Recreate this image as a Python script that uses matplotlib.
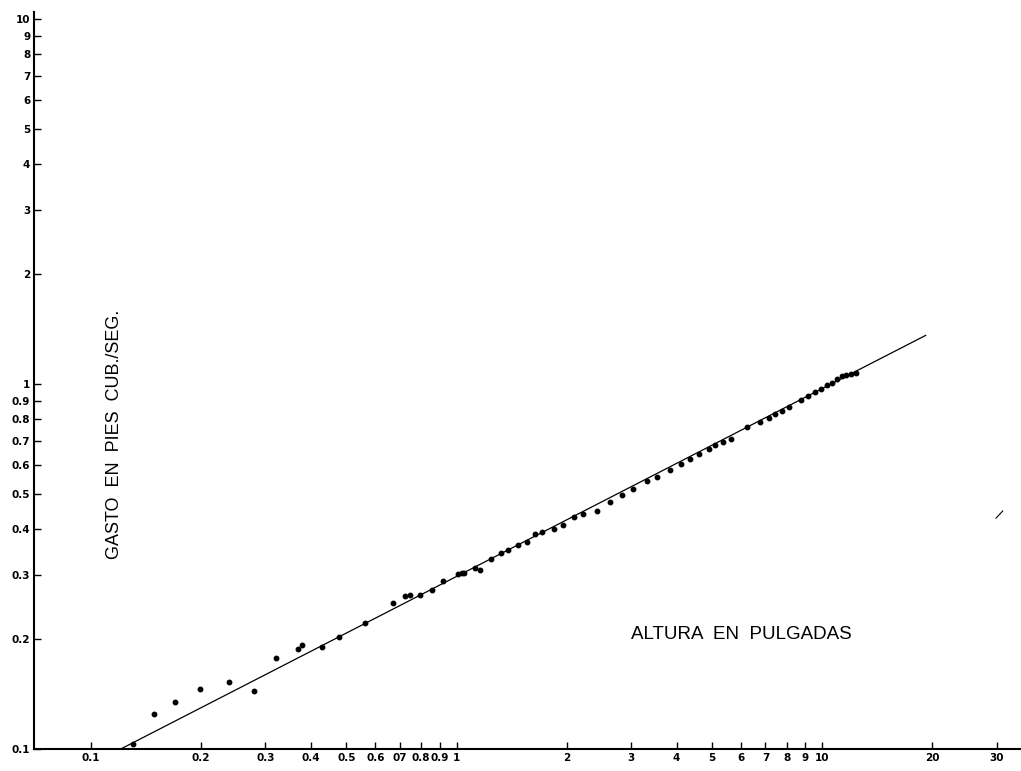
import numpy as np
import matplotlib.pyplot as plt

# ---------- data ----------
altura = [0.130, 0.149, 0.170, 0.199, 0.239, 0.280, 0.320, 0.369, 0.378, 0.428,
          0.477, 0.563, 0.670, 0.724, 0.747, 0.796, 0.857, 0.917, 1.008, 1.032,
          1.047, 1.121, 1.161, 1.244, 1.325, 1.387, 1.477, 1.556, 1.641, 1.711,
          1.849, 1.960, 2.097, 2.223, 2.417, 2.630, 2.829, 3.031, 3.309, 3.526,
          3.836, 4.111, 4.350, 4.613, 4.912, 5.091, 5.364, 5.640, 6.212, 6.757,
          7.164, 7.440, 7.760, 8.124, 8.763, 9.170, 9.557, 9.938, 10.34, 10.63,
          11.01, 11.32, 11.65, 12.03, 12.41]
gasto = [0.1032, 0.1245, 0.1342, 0.1462, 0.1529, 0.1442, 0.1781, 0.1876, 0.1925, 0.1907,
         0.2025, 0.2218, 0.2507, 0.2630, 0.2642, 0.2650, 0.2727, 0.2895, 0.3024, 0.3039,
         0.3041, 0.3126, 0.3103, 0.3323, 0.3451, 0.3503, 0.3615, 0.3698, 0.3882, 0.3931,
         0.4006, 0.4109, 0.4313, 0.4404, 0.4497, 0.4742, 0.4956, 0.5147, 0.5413, 0.5551,
         0.5812, 0.6036, 0.6230, 0.6430, 0.6624, 0.6806, 0.6949, 0.7082, 0.7638, 0.7853,
         0.8054, 0.8276, 0.8450, 0.8666, 0.9041, 0.9270, 0.9496, 0.9708, 0.9957, 1.0044,
         1.030, 1.052, 1.060, 1.063, 1.074]

# fitted line end points
linea_x = [0.1206, 19.2]
linea_y = [0.1, 1.359]

# stray mark on the sheet
marca_x = [29.9, 31.2]
marca_y = [0.429, 0.449]

xticks = [0.1, 0.2, 0.3, 0.4, 0.5, 0.6, 0.7, 0.8, 0.9, 1, 2, 3, 4, 5, 6, 7, 8, 9, 10, 20, 30]
xlabels = ['0.1', '0.2', '0.3', '0.4', '0.5', '0.6', '07', '0.8', '0.9', '1',
           '2', '3', '4', '5', '6', '7', '8', '9', '10', '20', '30']
yticks = [0.1, 0.2, 0.3, 0.4, 0.5, 0.6, 0.7, 0.8, 0.9, 1, 2, 3, 4, 5, 6, 7, 8, 9, 10]
ylabels = ['0.1', '0.2', '0.3', '0.4', '0.5', '0.6', '0.7', '0.8', '0.9', '1',
           '2', '3', '4', '5', '6', '7', '8', '9', '10']

# ---------- plotting ----------
fig = plt.figure(figsize=(10.21, 7.71), dpi=100)
ax = fig.add_axes([0.0336, 0.0285, 0.9664, 0.9559])

ax.plot(linea_x, linea_y, color='k', lw=0.9)
ax.plot(altura, gasto, 'o', color='k', ms=3.2, mec='k')
ax.plot(marca_x, marca_y, color='k', lw=0.8)

ax.set_xscale('log')
ax.set_yscale('log')
ax.set_xlim(0.07, 35)
ax.set_ylim(0.1, 10.45)

ax.spines['top'].set_visible(False)
ax.spines['right'].set_visible(False)
ax.spines['left'].set_linewidth(1.5)
ax.spines['bottom'].set_linewidth(1.5)

ax.minorticks_off()
ax.set_xticks(xticks)
ax.set_xticklabels(xlabels, fontsize=7.5, fontweight='bold')
ax.set_yticks(yticks)
ax.set_yticklabels(ylabels, fontsize=7.5, fontweight='bold')
ax.tick_params(direction='in', length=5, width=1, pad=3)

ax.text(0.116, 0.73, 'GASTO  EN  PIES  CUB./SEG.', rotation=90,
        ha='center', va='center', fontsize=13, family='Liberation Sans')
ax.text(6.0, 0.2065, 'ALTURA  EN  PULGADAS', ha='center', va='center',
        fontsize=13.5, family='Liberation Sans')

plt.savefig('out.png', dpi=100)
